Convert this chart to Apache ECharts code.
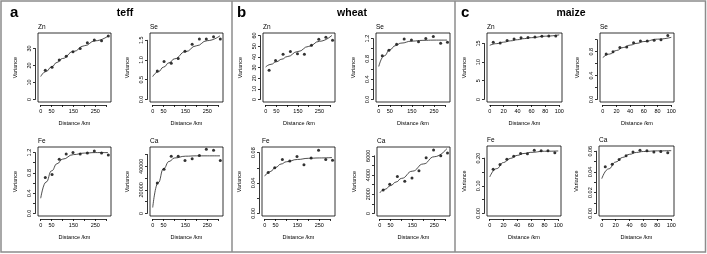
<!DOCTYPE html>
<html><head><meta charset="utf-8">
<script src="https://cdn.jsdelivr.net/npm/echarts@6/dist/echarts.min.js"></script>
<style>html,body{margin:0;padding:0;background:#fff}#c{width:707px;height:254px}</style>
</head><body><div id="c"></div>
<script>
// ---------- DATA ----------
const teffDist  = [21, 52, 85, 117, 148, 181, 214, 246, 279, 310];
const teffZn    = [17.2, 19.0, 23.2, 25.4, 28.0, 30.0, 33.4, 35.0, 34.6, 37.4];
const teffSe    = [0.72, 0.96, 0.92, 1.04, 1.22, 1.40, 1.53, 1.53, 1.59, 1.53];
const teffFe    = [0.71, 0.77, 1.07, 1.17, 1.20, 1.17, 1.19, 1.23, 1.19, 1.15];
const teffCa    = [25700, 37500, 48500, 48500, 44800, 46300, 49000, 54300, 53500, 44800];

const wheatDist = [16, 46, 81, 115, 148, 180, 213, 247, 280, 311];
const wheatZn   = [27.5, 36.5, 42.5, 45.0, 43.0, 42.5, 51.0, 56.5, 58.5, 55.5];
const wheatSe   = [0.86, 0.97, 1.09, 1.19, 1.17, 1.14, 1.20, 1.24, 1.11, 1.13];
const wheatFe   = [0.054, 0.060, 0.071, 0.069, 0.075, 0.064, 0.073, 0.083, 0.071, 0.070];
const wheatCa   = [2450, 3050, 3850, 3350, 3700, 4450, 5800, 6600, 6000, 6300];

const maizeDist = [5, 15, 25, 35, 45, 55, 65, 75, 85, 95];
const maizeZn   = [15.3, 15.1, 15.8, 16.2, 16.5, 16.6, 16.7, 16.9, 17.0, 17.0];
const maizeSe   = [0.76, 0.80, 0.87, 0.88, 0.95, 0.98, 0.98, 0.99, 1.00, 1.07];
const maizeFe   = [0.160, 0.177, 0.196, 0.207, 0.217, 0.216, 0.229, 0.227, 0.227, 0.220];
const maizeCa   = [0.045, 0.0475, 0.052, 0.0555, 0.0592, 0.061, 0.0603, 0.0592, 0.0597, 0.0585];

// fitted model curves
const fitDistLong  = [0, 25, 50, 75, 100, 150, 200, 250, 310];
const fitTeffZn    = [13.5, 16.5, 19.2, 21.8, 24.1, 28.2, 31.6, 34.5, 37.4];
const fitTeffSe    = [0.58, 0.70, 0.82, 0.93, 1.03, 1.21, 1.36, 1.49, 1.62];
const fitTeffFe    = [0.30, 0.62, 0.84, 0.98, 1.07, 1.16, 1.19, 1.20, 1.20];
const fitTeffCa    = [5000, 26000, 38000, 44000, 47000, 48500, 48800, 48800, 48800];
const fitWheatZn   = [30.5, 33.0, 35.4, 37.8, 40.2, 45.0, 49.8, 54.6, 60.5];
const fitWheatSe   = [0.65, 0.86, 0.98, 1.06, 1.11, 1.15, 1.165, 1.17, 1.17];
const fitWheatFe   = [0.049, 0.055, 0.0605, 0.065, 0.068, 0.071, 0.0725, 0.073, 0.0735];
const fitWheatCa   = [2150, 2520, 2900, 3270, 3650, 4400, 5150, 5900, 6800];
const fitDistShort = [0, 10, 20, 30, 40, 50, 60, 80, 100];
const fitMaizeZn   = [14.5, 14.95, 15.35, 15.7, 16.0, 16.3, 16.55, 16.95, 17.3];
const fitMaizeSe   = [0.70, 0.76, 0.82, 0.87, 0.91, 0.94, 0.97, 1.01, 1.04];
const fitMaizeFe   = [0.132, 0.162, 0.184, 0.199, 0.210, 0.217, 0.221, 0.225, 0.226];
const fitMaizeCa   = [0.0335, 0.043, 0.0495, 0.054, 0.057, 0.0588, 0.0597, 0.0603, 0.0605];

// tick labels
const xLabLong  = [0, 50, 150, 250];
const xLabShort = [0, 20, 40, 60, 80, 100];
const cropNames = ['teff', 'wheat', 'maize'];
const letters = ['a', 'b', 'c'];

// ---------- LAYOUT ----------
const FONT = '"Liberation Sans", Arial, Helvetica, sans-serif';
const gap = 3;
const FS = 5.5;
const panels = [
  {n:'Zn', box:[38,33,111,102],  xs:teffDist, ys:teffZn, fx:fitDistLong, fy:fitTeffZn, xr:[-12.4,322.4], xMax:300, xInt:50, xLab:xLabLong, yr:[-1.5,39.1], yMax:30, yInt:10, yLab:[0,10,20,30], dec:0},
  {n:'Se', box:[150,33,223,102], xs:teffDist, ys:teffSe, fx:fitDistLong, fy:fitTeffSe, xr:[-12.4,322.4], xMax:300, xInt:50, xLab:xLabLong, yr:[-0.065,1.685], yMax:1.5, yInt:0.5, yLab:[0,0.5,1,1.5], dec:1},
  {n:'Fe', box:[38,147,111,216], xs:teffDist, ys:teffFe, fx:fitDistLong, fy:fitTeffFe, xr:[-12.4,322.4], xMax:300, xInt:50, xLab:xLabLong, yr:[-0.05,1.31], yMax:1.2, yInt:0.2, yLab:[0,0.4,0.8,1.2], dec:1},
  {n:'Ca', box:[150,147,223,216],xs:teffDist, ys:teffCa, fx:fitDistLong, fy:fitTeffCa, xr:[-12.4,322.4], xMax:300, xInt:50, xLab:xLabLong, yr:[-2200,56300], yMax:50000, yInt:10000, yLab:[0,20000,40000], dec:0},
  {n:'Zn', box:[263,33,335,102], xs:wheatDist, ys:wheatZn, fx:fitDistLong, fy:fitWheatZn, xr:[-12.4,322.4], xMax:300, xInt:50, xLab:xLabLong, yr:[-2.4,62.4], yMax:60, yInt:10, yLab:[0,10,20,30,40,50,60], dec:0},
  {n:'Se', box:[376,33,450,102], xs:wheatDist, ys:wheatSe, fx:fitDistLong, fy:fitWheatSe, xr:[-12.4,322.4], xMax:300, xInt:50, xLab:xLabLong, yr:[-0.05,1.31], yMax:1.2, yInt:0.2, yLab:[0,0.4,0.8,1.2], dec:1},
  {n:'Fe', box:[262,147,335,216],xs:wheatDist, ys:wheatFe, fx:fitDistLong, fy:fitWheatFe, xr:[-12.4,322.4], xMax:300, xInt:50, xLab:xLabLong, yr:[-0.0034,0.0874], yMax:0.08, yInt:0.02, yLab:[0,0.04,0.08], dec:2},
  {n:'Ca', box:[377,147,450,216],xs:wheatDist, ys:wheatCa, fx:fitDistLong, fy:fitWheatCa, xr:[-12.4,322.4], xMax:300, xInt:50, xLab:xLabLong, yr:[-266,6916], yMax:6000, yInt:1000, yLab:[0,2000,4000,6000], dec:0},
  {n:'Zn', box:[487,33,562,102], xs:maizeDist, ys:maizeZn, fx:fitDistShort, fy:fitMaizeZn, xr:[-4,104], xMax:100, xInt:20, xLab:xLabShort, yr:[-0.7,17.8], yMax:15, yInt:5, yLab:[0,5,10,15], dec:0},
  {n:'Se', box:[600,33,674,102], xs:maizeDist, ys:maizeSe, fx:fitDistShort, fy:fitMaizeSe, xr:[-4,104], xMax:100, xInt:20, xLab:xLabShort, yr:[-0.043,1.113], yMax:1.0, yInt:0.2, yLab:[0,0.4,0.8], dec:1},
  {n:'Fe', box:[487,146,561,216],xs:maizeDist, ys:maizeFe, fx:fitDistShort, fy:fitMaizeFe, xr:[-4,104], xMax:100, xInt:20, xLab:xLabShort, yr:[-0.0094,0.244], yMax:0.2, yInt:0.05, yLab:[0,0.1,0.2], dec:2},
  {n:'Ca', box:[599,146,674,216],xs:maizeDist, ys:maizeCa, fx:fitDistShort, fy:fitMaizeCa, xr:[-4,104], xMax:100, xInt:20, xLab:xLabShort, yr:[-0.0025,0.065], yMax:0.06, yInt:0.01, yLab:[0,0.02,0.04,0.06], dec:2}
];

const grid = [], xAxis = [], yAxis = [], series = [], graphic = [];
const axisStyle = {color:'#000', width:0.8};
const lab = (list, step, dec) => v => list.some(s => Math.abs(s - v) < step*0.01) ? v.toFixed(dec) : '';

panels.forEach((p, i) => {
  const [l, t, r, b] = p.box;
  const px = v => l + (v - p.xr[0]) / (p.xr[1] - p.xr[0]) * (r - l);
  const py = v => b - (v - p.yr[0]) / (p.yr[1] - p.yr[0]) * (b - t);
  const iL = px(0), iR = px(p.xMax), iT = py(p.yMax), iB = py(0);
  const gi = 2*i, go = 2*i + 1;
  grid.push({left:iL, top:iT, width:iR-iL, height:iB-iT, containLabel:false, outerBoundsMode:'none', show:false});
  grid.push({left:l, top:t, width:r-l, height:b-t, containLabel:false, outerBoundsMode:'none', show:true, borderColor:'#000', borderWidth:0.8, backgroundColor:'transparent'});
  xAxis.push({type:'value', gridIndex:gi, min:0, max:p.xMax, interval:p.xInt, position:'bottom', offset:(b - iB) + gap,
    axisLine:{show:true, onZero:false, lineStyle:axisStyle}, axisTick:{show:true, length:2, lineStyle:axisStyle},
    axisLabel:{fontSize:FS, fontFamily:FONT, color:'#000', margin:3, hideOverlap:false, formatter:lab(p.xLab, p.xInt, 0)},
    splitLine:{show:false}});
  xAxis.push({type:'value', gridIndex:go, min:0, max:1, axisLine:{show:false}, axisTick:{show:false}, axisLabel:{show:false}, splitLine:{show:false},
    name:'Distance /km', nameLocation:'middle', nameGap:18.5, nameTextStyle:{fontSize:FS, fontFamily:FONT, color:'#000'}});
  yAxis.push({type:'value', gridIndex:gi, min:0, max:p.yMax, interval:p.yInt, position:'left', offset:(iL - l) + gap,
    axisLine:{show:true, onZero:false, lineStyle:axisStyle}, axisTick:{show:true, length:2, lineStyle:axisStyle},
    axisLabel:{fontSize:FS, fontFamily:FONT, color:'#000', margin:3, rotate:90, hideOverlap:false, formatter:lab(p.yLab, p.yInt, p.dec)},
    splitLine:{show:false}});
  yAxis.push({type:'value', gridIndex:go, min:0, max:1, axisLine:{show:false}, axisTick:{show:false}, axisLabel:{show:false}, splitLine:{show:false},
    name:'Variance', nameLocation:'middle', nameRotate:90, nameGap:20, nameTextStyle:{fontSize:FS, fontFamily:FONT, color:'#000'}});
  series.push({type:'line', xAxisIndex:gi, yAxisIndex:gi, data:p.fx.map((x,k)=>[x, p.fy[k]]), smooth:true, smoothMonotone:'x',
    showSymbol:false, clip:false, silent:true, lineStyle:{color:'#222', width:0.8}});
  series.push({type:'scatter', xAxisIndex:gi, yAxisIndex:gi, data:p.xs.map((x,k)=>[x, p.ys[k]]), symbol:'circle', symbolSize:3,
    clip:false, silent:true, itemStyle:{color:'#000'}});
  graphic.push({type:'text', x:l, y:t-6, silent:true, style:{text:p.n, font:'6.5px ' + FONT, fill:'#000', align:'left', verticalAlign:'middle', textAlign:'left', textVerticalAlign:'middle'}});
});

// frame and group labels
graphic.push({type:'rect', silent:true, shape:{x:1, y:1, width:704.5, height:251}, style:{fill:'none', stroke:'#8c8c8c', lineWidth:1.5}});
[232, 455].forEach(x => graphic.push({type:'line', silent:true, shape:{x1:x, y1:1, x2:x, y2:252}, style:{stroke:'#8c8c8c', lineWidth:1.5}}));
const letterX = [10, 237, 461];
const cropX = [125, 352, 571];
letters.forEach((s, k) => {
  graphic.push({type:'text', x:letterX[k], y:12.8, silent:true, style:{text:s, font:'bold 15px ' + FONT, fill:'#000', align:'left', verticalAlign:'middle', textAlign:'left', textVerticalAlign:'middle'}});
  graphic.push({type:'text', x:cropX[k], y:13.3, silent:true, style:{text:cropNames[k], font:'bold 10.5px ' + FONT, fill:'#000', align:'center', verticalAlign:'middle', textAlign:'center', textVerticalAlign:'middle'}});
});

const chart = echarts.init(document.getElementById('c'), null, {renderer:'canvas'});
chart.setOption({animation:false, backgroundColor:'#fff', grid, xAxis, yAxis, series, graphic});
</script></body></html>
